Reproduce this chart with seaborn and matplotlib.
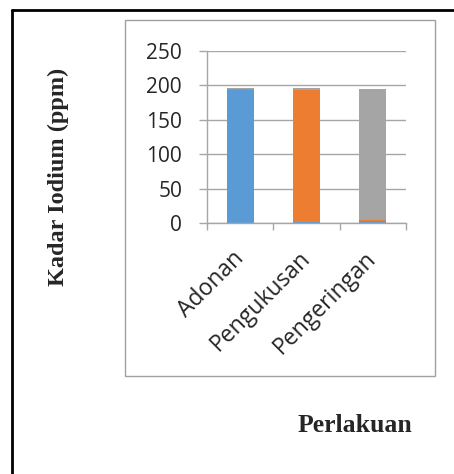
import matplotlib
matplotlib.use("Agg")
import matplotlib.pyplot as plt
import seaborn as sns
import pandas as pd
import numpy as np
from matplotlib.patches import Rectangle

# Iodine content per processing stage, stacked by component
categories = ["Adonan", "Pengukusan", "Pengeringan"]
series_a = [193, 1, 3]
series_b = [2, 193, 1]
series_c = [1, 1.5, 191]
colors = ["#5b9bd5", "#ed7d31", "#a5a5a5"]
yticks = [0, 50, 100, 150, 200, 250]

sns.set_theme(style="white")
plt.rcParams["font.family"] = ["Open Sans", "DejaVu Sans"]

W, H = 454, 474
fig = plt.figure(figsize=(W / 100, H / 100), dpi=100)
ax = fig.add_axes([207 / W, 1 - 223 / H, (406 - 207) / W, (223 - 51) / H])

df = pd.DataFrame({"cat": categories, "a": series_a, "b": series_b, "c": series_c})
bottom = np.zeros(len(categories))
for col, color in zip(["a", "b", "c"], colors):
    sns.barplot(data=df, x="cat", y=col, color=color, width=0.41,
                bottom=bottom, ax=ax, saturation=1, edgecolor="none")
    bottom = bottom + df[col].to_numpy()

ax.set_xlim(-0.5, 2.5)
ax.set_ylim(0, 250)
ax.set_yticks(yticks)
ax.set_yticklabels([str(v) for v in yticks], fontsize=15)
ax.yaxis.grid(True, color="#a6a6a6", linewidth=1)
ax.set_axisbelow(True)
ax.tick_params(axis="y", length=6, color="#a6a6a6", width=1, pad=12, left=True)

ax.set_xticks(range(len(categories)))
ax.set_xticklabels(categories, fontsize=16.5, rotation=45, ha="right",
                   va="center", rotation_mode="anchor")
ax.tick_params(axis="x", which="major", length=0, pad=23)
ax.set_xticks([-0.5, 0.5, 1.5, 2.5], minor=True)
ax.tick_params(axis="x", which="minor", length=5, color="#a6a6a6", width=1,
               bottom=True)

for side in ["top", "right"]:
    ax.spines[side].set_visible(False)
for side in ["left", "bottom"]:
    ax.spines[side].set_color("#a6a6a6")
    ax.spines[side].set_linewidth(1)
ax.set_xlabel("")
ax.set_ylabel("")

# Axis titles
fig.text(58 / W, 1 - 177 / H, "Kadar Iodium (ppm)", rotation=90,
         ha="center", va="center", fontsize=17.5, fontweight="bold",
         family=["Liberation Serif", "DejaVu Serif"])
fig.text(355 / W, 1 - 426 / H, "Perlakuan", ha="center", va="center",
         fontsize=18.5, fontweight="bold",
         family=["Liberation Serif", "DejaVu Serif"])

# Chart area frame and outer page frame
fig.patches.append(Rectangle((125 / W, 1 - 376 / H), (435 - 125) / W,
                             (376 - 20) / H, transform=fig.transFigure,
                             fill=False, edgecolor="#a0a0a0", linewidth=1))
fig.lines.append(plt.Line2D([12 / W, 12 / W], [0, 1 - 10 / H],
                            transform=fig.transFigure, color="black",
                            linewidth=2))
fig.lines.append(plt.Line2D([12 / W, 1], [1 - 10 / H, 1 - 10 / H],
                            transform=fig.transFigure, color="black",
                            linewidth=2))

fig.savefig("out.png", dpi=100)
